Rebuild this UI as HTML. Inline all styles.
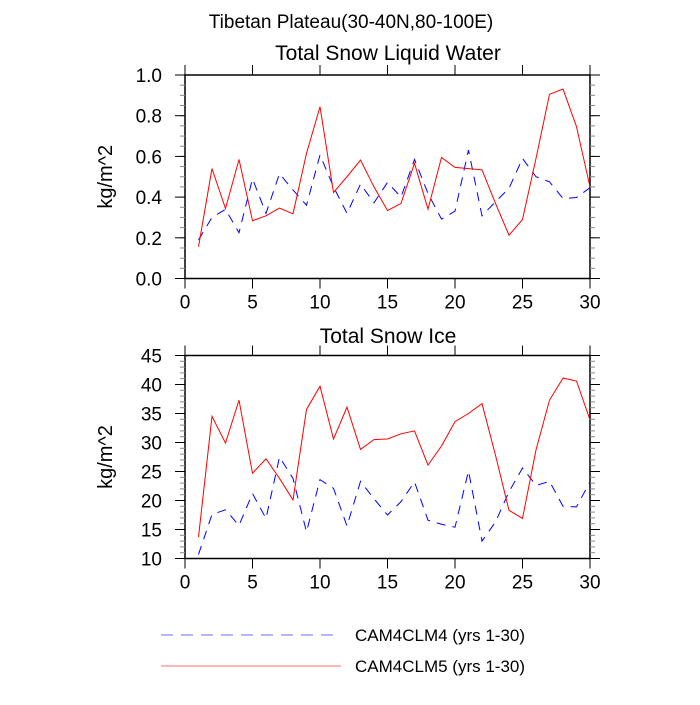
<!DOCTYPE html>
<html><head><meta charset="utf-8"><style>
body{margin:0;background:#fff}
svg text{font-family:"Liberation Sans",Arial,sans-serif;fill:#000}
</style></head><body>
<svg id="chart" width="700" height="700" viewBox="0 0 700 700" xmlns="http://www.w3.org/2000/svg">
<text x="351" y="28" font-size="19" text-anchor="middle">Tibetan Plateau(30-40N,80-100E)</text>
<text x="388" y="60" font-size="21" text-anchor="middle">Total Snow Liquid Water</text>
<text x="388" y="343" font-size="21" text-anchor="middle">Total Snow Ice</text>
<g id="p1"></g>
<g id="p2"></g>
<g>
<line x1="161" y1="635" x2="338" y2="635" stroke="#6a6aff" stroke-width="1" stroke-dasharray="12,8"/>
<text x="355" y="641" font-size="17">CAM4CLM4 (yrs 1-30)</text>
<line x1="161" y1="666" x2="341" y2="666" stroke="#ff7070" stroke-width="1"/>
<text x="355" y="672" font-size="17">CAM4CLM5 (yrs 1-30)</text>
</g>
</svg>
<script>
const years = [1,2,3,4,5,6,7,8,9,10,11,12,13,14,15,16,17,18,19,20,21,22,23,24,25,26,27,28,29,30];
const liqClm4 = [0.19,0.30,0.34,0.225,0.49,0.32,0.515,0.435,0.36,0.607,0.45,0.32,0.464,0.372,0.472,0.40,0.585,0.418,0.292,0.331,0.631,0.308,0.377,0.443,0.59,0.50,0.475,0.393,0.398,0.446];
const liqClm5 = [0.156,0.54,0.344,0.585,0.284,0.308,0.346,0.318,0.615,0.844,0.423,0.50,0.582,0.45,0.334,0.369,0.566,0.341,0.595,0.546,0.54,0.534,0.369,0.213,0.29,0.59,0.905,0.931,0.746,0.45];
const iceClm4 = [10.7,17.6,18.4,15.7,21.2,16.9,27.5,23.8,14.6,23.6,22.1,15.6,23.3,20.3,17.5,19.8,23.2,16.6,15.9,15.4,25.1,13.0,16.3,21.5,25.6,22.6,23.3,19.0,18.9,23.2];
const iceClm5 = [13.7,34.5,29.9,37.3,24.7,27.2,23.8,20.1,35.7,39.7,30.6,36.1,28.8,30.5,30.6,31.5,32.0,26.1,29.4,33.6,35.0,36.7,27.8,18.3,16.9,28.7,37.3,41.1,40.6,33.9];
const xTicks = [0,5,10,15,20,25,30];
const liqTicks = ["0.0","0.2","0.4","0.6","0.8","1.0"];
const iceTicks = ["10","15","20","25","30","35","40","45"];
const NS="http://www.w3.org/2000/svg";
function mk(parent,tag,attrs){const e=document.createElementNS(NS,tag);for(const k in attrs)e.setAttribute(k,attrs[k]);parent.appendChild(e);return e;}
function panel(g,top,bottom,ymin,ymax,yTicks,minorStep,s4,s5,name){
  const L=185,R=590;
  const xs=v=>L+(v-0)/30*(R-L);
  const ys=v=>bottom-(v-ymin)/(ymax-ymin)*(bottom-top);
  const f=mk(g,'rect',{x:L,y:top,width:R-L,height:bottom-top,fill:'none',stroke:'#000','stroke-width':1.5});
  
  
  xTicks.forEach(t=>{
    const x=xs(t);
    const a=mk(g,'line',{x1:x,y1:bottom,x2:x,y2:bottom+10,stroke:'#000'});
    
    
    mk(g,'line',{x1:x,y1:top,x2:x,y2:top-10,stroke:'#000'});
    const tx=mk(g,'text',{x:x,y:bottom+30,'font-size':19,'text-anchor':'middle'});
    tx.textContent=t;
    
    
  });
  for(let v=ymin;v<=ymax+1e-9;v+=minorStep){
    const y=ys(v);
    mk(g,'line',{x1:L,y1:y,x2:L-5,y2:y,stroke:'#888'});
    mk(g,'line',{x1:R,y1:y,x2:R+5,y2:y,stroke:'#888'});
  }
  yTicks.forEach(t=>{
    const y=ys(parseFloat(t));
    mk(g,'line',{x1:L,y1:y,x2:L-10,y2:y,stroke:'#000'});
    mk(g,'line',{x1:R,y1:y,x2:R+10,y2:y,stroke:'#000'});
    const tx=mk(g,'text',{x:162,y:y+7,'font-size':19,'text-anchor':'end'});
    tx.textContent=t;
    
    
  });
  const yl=mk(g,'text',{x:0,y:0,'font-size':20,'text-anchor':'middle',transform:`translate(112,${(top+bottom)/2}) rotate(-90)`});
  yl.textContent='kg/m^2';
  
  
  const p4=mk(g,'polyline',{points:years.map((x,i)=>xs(x)+','+ys(s4[i])).join(' '),fill:'none',stroke:'#0000ff','stroke-width':1,'stroke-dasharray':'9,7'});
  
  
  const p5=mk(g,'polyline',{points:years.map((x,i)=>xs(x)+','+ys(s5[i])).join(' '),fill:'none',stroke:'#ff0000','stroke-width':1});
  
  
}
panel(document.getElementById('p1'),75,278.5,0,1,liqTicks,0.05,liqClm4,liqClm5,'liquid');
panel(document.getElementById('p2'),355.5,558.5,10,45,iceTicks,1,iceClm4,iceClm5,'ice');
</script>
</body></html>
